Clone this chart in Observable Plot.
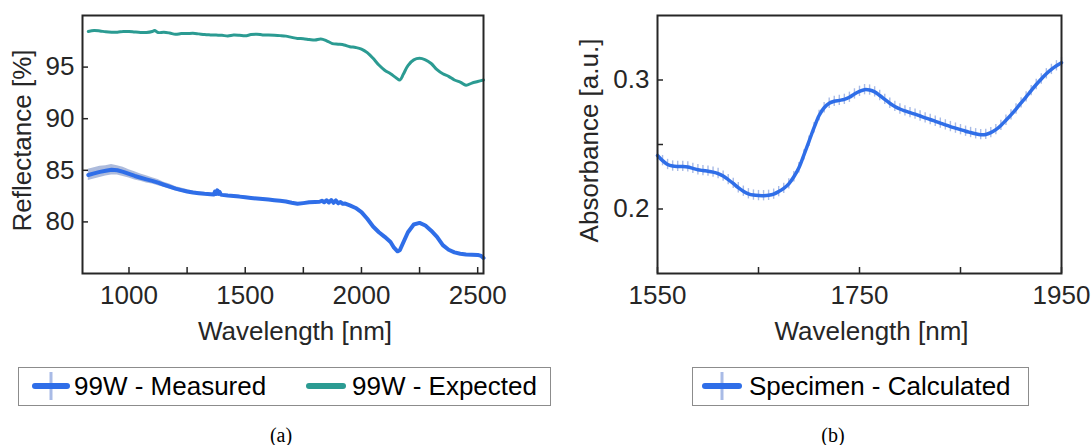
<!DOCTYPE html>
<html><head><meta charset="utf-8">
<script src="https://cdn.jsdelivr.net/npm/d3@7"></script>
<script src="https://cdn.jsdelivr.net/npm/@observablehq/plot@0.6"></script>
<style>
body{margin:0;background:#fff;}
#root{position:relative;width:1091px;height:445px;overflow:hidden;font-family:"Liberation Sans",Arial,sans-serif;background:#fff;}
.panel{position:absolute;top:0;}
#overlay{position:absolute;left:0;top:0;}
</style></head><body><div id="root"></div>
<script>
// ---------- Panel (a): reflectance ----------
const measWl = [825,850,875,900,925,950,975,1000,1025,1050,1075,1100,1125,1150,1175,1200,1225,1250,1275,1300,1325,1350,1365,1370,1375,1380,1385,1390,1395,1400,1425,1450,1475,1500,1525,1550,1575,1600,1625,1650,1675,1700,1725,1750,1775,1800,1820,1830,1840,1850,1860,1870,1880,1890,1900,1910,1920,1930,1950,1975,2000,2025,2050,2075,2100,2125,2140,2155,2165,2180,2200,2225,2250,2275,2300,2325,2350,2375,2400,2425,2450,2475,2500,2515,2525];
const measVal = [84.55,84.70,84.85,84.95,85.05,85.00,84.85,84.65,84.45,84.28,84.12,83.97,83.80,83.60,83.42,83.22,83.08,82.95,82.85,82.78,82.72,82.68,82.66,82.95,82.70,83.05,82.72,82.90,82.65,82.62,82.55,82.50,82.45,82.38,82.32,82.27,82.22,82.16,82.10,82.04,81.97,81.85,81.75,81.82,81.90,81.93,81.95,82.05,81.90,82.10,81.88,82.12,81.85,82.08,81.80,81.92,81.75,81.78,81.60,81.35,80.95,80.30,79.55,79.00,78.55,78.05,77.50,77.15,77.25,78.00,79.00,79.75,79.90,79.65,79.15,78.55,77.75,77.30,77.05,76.92,76.85,76.82,76.80,76.70,76.50];
const measSd = [0.55,0.55,0.55,0.5,0.5,0.45,0.45,0.4,0.4,0.35,0.35,0.3,0.3,0.25,0.25,0.2,0.2,0.18,0.15,0.15,0.12,0.12,0.1,0.1,0.1,0.1,0.1,0.1,0.1,0.1,0.1,0.1,0.1,0.08,0.08,0.08,0.08,0.08,0.08,0.08,0.08,0.08,0.08,0.08,0.08,0.08,0.08,0.08,0.08,0.08,0.08,0.08,0.08,0.08,0.08,0.08,0.08,0.08,0.08,0.08,0.08,0.08,0.08,0.08,0.08,0.08,0.08,0.08,0.08,0.08,0.08,0.08,0.08,0.08,0.08,0.08,0.08,0.08,0.08,0.08,0.08,0.08,0.08,0.08,0.08];

const expWl = [825,850,875,900,925,950,975,1000,1025,1050,1075,1100,1110,1125,1150,1175,1200,1225,1250,1275,1300,1325,1350,1375,1400,1425,1450,1475,1500,1525,1550,1575,1600,1625,1650,1675,1700,1725,1750,1775,1800,1825,1850,1875,1900,1925,1950,1975,2000,2025,2050,2075,2100,2125,2150,2165,2180,2200,2225,2250,2275,2300,2325,2350,2375,2400,2425,2450,2475,2500,2525];
const expVal = [98.45,98.55,98.50,98.42,98.38,98.38,98.45,98.45,98.40,98.36,98.35,98.45,98.55,98.35,98.38,98.30,98.18,98.25,98.25,98.28,98.22,98.15,98.12,98.10,98.08,98.02,98.10,98.08,98.03,98.15,98.18,98.12,98.10,98.08,98.05,98.00,97.88,97.78,97.75,97.68,97.62,97.72,97.55,97.28,97.22,97.15,96.98,96.90,96.75,96.40,95.85,95.20,94.70,94.35,93.95,93.75,94.30,95.15,95.70,95.85,95.70,95.35,94.75,94.35,94.10,93.75,93.55,93.25,93.45,93.60,93.75];

const xTickMarksA = [1000,1250,1500,1750,2000,2250,2500];
const xTickLabelsA = [1000,1500,2000,2500];
const yTicksA = [80,85,90,95];

// ---------- Panel (b): absorbance ----------
const absWl = [1550,1555,1560,1565,1570,1575,1580,1585,1590,1595,1600,1605,1610,1615,1620,1625,1630,1635,1640,1645,1650,1655,1660,1665,1670,1675,1680,1685,1690,1695,1700,1705,1710,1715,1720,1725,1730,1735,1740,1745,1750,1755,1760,1765,1770,1775,1780,1785,1790,1795,1800,1805,1810,1815,1820,1825,1830,1835,1840,1845,1850,1855,1860,1865,1870,1875,1880,1885,1890,1895,1900,1905,1910,1915,1920,1925,1930,1935,1940,1945,1950];
const absVal = [0.2415,0.2375,0.2345,0.2333,0.2330,0.2330,0.2326,0.2315,0.2304,0.2298,0.2293,0.2286,0.2275,0.2255,0.2228,0.2198,0.2165,0.2138,0.2118,0.2108,0.2104,0.2103,0.2106,0.2115,0.2135,0.2160,0.2195,0.2250,0.2320,0.2420,0.2525,0.2630,0.2725,0.2785,0.2820,0.2835,0.2842,0.2850,0.2866,0.2892,0.2912,0.2925,0.2922,0.2908,0.2880,0.2850,0.2820,0.2795,0.2775,0.2760,0.2747,0.2735,0.2721,0.2707,0.2694,0.2680,0.2666,0.2652,0.2639,0.2627,0.2615,0.2603,0.2593,0.2583,0.2576,0.2578,0.2592,0.2615,0.2648,0.2688,0.2730,0.2775,0.2822,0.2869,0.2918,0.2965,0.3008,0.3048,0.3082,0.3110,0.3134];
const absErr = [0.004,0.004,0.004,0.004,0.004,0.004,0.004,0.004,0.004,0.004,0.004,0.004,0.004,0.004,0.004,0.004,0.004,0.004,0.004,0.004,0.004,0.004,0.004,0.004,0.004,0.004,0.004,0.004,0.004,0.004,0.004,0.004,0.004,0.004,0.004,0.004,0.004,0.004,0.004,0.004,0.004,0.004,0.004,0.004,0.004,0.004,0.004,0.004,0.004,0.004,0.004,0.004,0.004,0.004,0.004,0.004,0.004,0.004,0.004,0.004,0.004,0.004,0.004,0.004,0.004,0.004,0.004,0.004,0.004,0.004,0.004,0.004,0.004,0.004,0.004,0.004,0.004,0.004,0.004,0.004,0.004];

const xTickMarksB = [1550,1650,1750,1850,1950];
const xTickLabelsB = [1550,1750,1950];
const yTickMarksB = [0.2,0.25,0.3];
const yTickLabelsB = [0.2,0.3];

const legendA = ["99W - Measured","99W - Expected"];
const legendB = ["Specimen - Calculated"];
const captions = ["(a)","(b)"];

// ---------- styles ----------
const BLUE = "#2f6ee8", TEAL = "#2b9b92", BAND = "#a4b4d8", ERR = "#a9bbe6", INK = "#262626";
const FONT = "'Liberation Sans', Arial, sans-serif";
const FS = 26;

const measured = measWl.map((w,i)=>({wl:w, val:measVal[i], lo:measVal[i]-measSd[i], hi:measVal[i]+measSd[i]}));
const expected = expWl.map((w,i)=>({wl:w, val:expVal[i]}));
const absorb = absWl.map((w,i)=>({wl:w, val:absVal[i], lo:absVal[i]-absErr[i], hi:absVal[i]+absErr[i]}));

const fmt = d => String(d);
const root = document.getElementById("root");

function commonAxes(xMarks, xLabels, yMarks, yLabels, xTitle, yTitle, yTitleDx) {
  return [
    Plot.axisX({ticks: xMarks, tickSize: -6, tickFormat: () => "", stroke: INK, strokeWidth: 1.5, label: null}),
    Plot.axisX({ticks: xLabels, tickSize: 0, tickPadding: 12, tickFormat: fmt, fontSize: FS, fill: INK, label: null}),
    Plot.axisY({ticks: yMarks, tickSize: -6, tickFormat: () => "", stroke: INK, strokeWidth: 1.5, label: null}),
    Plot.axisY({ticks: yLabels, tickSize: 0, tickPadding: 8, tickFormat: fmt, fontSize: FS, fill: INK, label: null}),
    Plot.text([xTitle], {frameAnchor: "bottom", dy: 58, dx: 12, textAnchor: "middle", lineAnchor: "middle", fontSize: FS, fill: INK}),
    Plot.text([yTitle], {frameAnchor: "left", rotate: -90, dx: yTitleDx, dy: -4, textAnchor: "middle", lineAnchor: "middle", fontSize: FS, fill: INK}),
    Plot.frame({stroke: INK, strokeWidth: 2})
  ];
}

const plotA = Plot.plot({
  width: 545, height: 355,
  marginLeft: 82, marginRight: 62, marginTop: 15, marginBottom: 82,
  x: {domain: [800, 2525]},
  y: {domain: [75, 100]},
  style: {fontFamily: FONT, fontSize: FS + "px", color: INK, background: "transparent", overflow: "visible"},
  marks: [
    Plot.areaY(measured, {x: "wl", y1: "lo", y2: "hi", fill: BAND, fillOpacity: 0.9}),
    Plot.lineY(measured, {x: "wl", y: "val", stroke: BLUE, strokeWidth: 4}),
    Plot.lineY(expected, {x: "wl", y: "val", stroke: TEAL, strokeWidth: 3, curve: "catmull-rom"}),
    ...commonAxes(xTickMarksA, xTickLabelsA, yTicksA, yTicksA, "Wavelength [nm]", "Reflectance [%]", -60)
  ]
});
plotA.classList.add("panel");
plotA.style.left = "0px";
root.appendChild(plotA);

const plotB = Plot.plot({
  width: 546, height: 355,
  marginLeft: 112, marginRight: 30, marginTop: 15, marginBottom: 82,
  x: {domain: [1550, 1950]},
  y: {domain: [0.15, 0.35]},
  style: {fontFamily: FONT, fontSize: FS + "px", color: INK, background: "transparent", overflow: "visible"},
  marks: [
    Plot.ruleX(absorb, {x: "wl", y1: "lo", y2: "hi", stroke: ERR, strokeWidth: 1.4}),
    Plot.lineY(absorb, {x: "wl", y: "val", stroke: BLUE, strokeWidth: 3.5, curve: "catmull-rom"}),
    ...commonAxes(xTickMarksB, xTickLabelsB, yTickMarksB, yTickLabelsB, "Wavelength [nm]", "Absorbance [a.u.]", -68)
  ]
});
plotB.classList.add("panel");
plotB.style.left = "545px";
root.appendChild(plotB);

// ---------- legends and captions ----------
const ov = d3.select(root).append("svg").attr("id","overlay").attr("width",1091).attr("height",445)
  .style("position","absolute").style("left","0px").style("top","0px");

function box(x, y, w, h) {
  ov.append("rect").attr("x",x+0.5).attr("y",y+0.5).attr("width",w).attr("height",h)
    .attr("fill","#fff").attr("stroke","#8c8c8c").attr("stroke-width",1);
}
function swatch(x1, x2, cy, color, withBar) {
  if (withBar) ov.append("line").attr("x1",(x1+x2)/2).attr("x2",(x1+x2)/2).attr("y1",cy-14).attr("y2",cy+14)
    .attr("stroke",ERR).attr("stroke-width",3);
  ov.append("line").attr("x1",x1+3).attr("x2",x2-3).attr("y1",cy).attr("y2",cy)
    .attr("stroke",color).attr("stroke-width",6).attr("stroke-linecap","round");
}
function label(x, y, t) {
  ov.append("text").attr("x",x).attr("y",y).attr("font-family",FONT).attr("font-size",FS)
    .attr("fill","#000").text(t);
}
box(18, 367, 532, 38);
swatch(32, 70, 386, BLUE, true);
label(74, 395, legendA[0]);
swatch(306, 346, 386, TEAL, false);
label(352, 395, legendA[1]);

box(692, 367, 336, 38);
swatch(702, 742, 386, BLUE, true);
label(749, 395, legendB[0]);

const capFont = "'Liberation Serif','Times New Roman',serif";
ov.append("text").attr("x",281).attr("y",442).attr("text-anchor","middle").attr("font-family",capFont).attr("font-size",20).attr("fill","#000").text(captions[0]);
ov.append("text").attr("x",833).attr("y",442).attr("text-anchor","middle").attr("font-family",capFont).attr("font-size",20).attr("fill","#000").text(captions[1]);
</script>
</body></html>
